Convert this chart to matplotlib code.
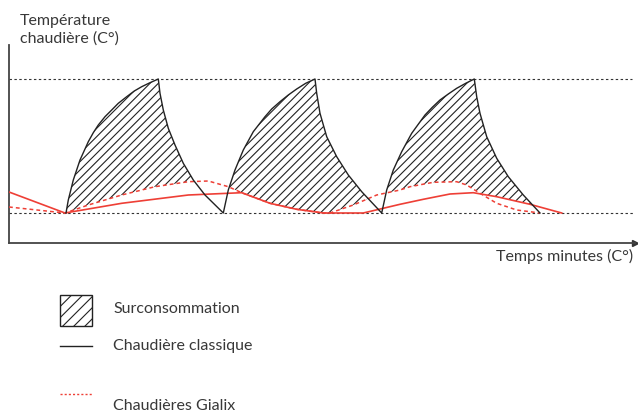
import numpy as np
import matplotlib
matplotlib.use("Agg")
import matplotlib.pyplot as plt
from matplotlib.lines import Line2D
from matplotlib.patches import Rectangle

# ---------------- data (x = minutes, y = temperature) ----------------
T_LOW = 15
T_HIGH = 82

# classic boiler cycles: rise (heating) then fall (cooling)
c1_rise_x = [11.4, 11.86, 12.86, 14.2, 15.86, 16.86, 17.86, 19.2, 20.54, 21.86, 23.54, 25.06, 26.54, 28.2, 29.86]
c1_rise_y = [15, 21.5, 31.5, 41.5, 50.65, 55.15, 59, 63.15, 66.5, 69.85, 73.15, 76, 78.15, 80.15, 82]
c1_fall_x = [30.2, 30.86, 31.86, 33.2, 34.86, 36.86, 39.2, 42.86]
c1_fall_y = [74.85, 66.5, 57.35, 49, 39.85, 31.5, 24, 15]

c2_rise_x = [43.86, 45.2, 46.86, 48.86, 51.2, 52.54, 54.2, 55.86, 57.54, 59.34, 61.2]
c2_rise_y = [26.5, 36.5, 46.5, 55.65, 63.15, 67, 70.65, 74, 77, 79.85, 82]
c2_fall_x = [61.54, 62.2, 63.54, 65.54, 67.86, 70.54, 74.54]
c2_fall_y = [74.85, 64.85, 53.15, 43.15, 34, 25.65, 15]

c3_rise_x = [75.54, 76.86, 78.54, 80.54, 83.2, 84.66, 86.2, 87.86, 89.54, 91.34, 93.06]
c3_rise_y = [26.5, 36.5, 45.65, 54.85, 64, 67.85, 71.5, 74.5, 77.35, 79.85, 82]
c3_fall_x = [93.54, 94.2, 95.54, 97.54, 99.86, 102.86, 106.2]
c3_fall_y = [73.15, 64.85, 53.15, 42.35, 33.15, 24, 15]

# Gialix boiler (solid red)
gs_x = [0, 11.2, 22.54, 35.86, 46.54, 52.2, 57.54, 62.86, 70.86, 78.2, 82.86, 88.2, 92.86, 97.54, 104.2, 110.54]
gs_y = [25.5, 15, 19.85, 24, 25.15, 19.85, 16.85, 15, 15, 19.35, 21.85, 24.5, 25.15, 23.15, 19.35, 15]

# Gialix boiler (dashed red)
gd_x = [0, 11.2, 15.86, 22.54, 29.2, 35.86, 39.86, 43.86, 46.54, 52.2, 57.54, 62.86, 64.2, 68.86,
        73.54, 78.2, 80.2, 84.86, 89.54, 91.54, 94.2, 97.54, 101.54, 106.2]
gd_y = [18, 15, 19, 24, 28.15, 30.65, 31, 28.15, 25.15, 19.85, 16.85, 15, 15, 19,
        24, 26.5, 28.15, 30.35, 30.65, 29, 24.85, 19.85, 16.5, 15]

y_label = "Température\nchaudière (C°)"
x_label = "Temps minutes (C°)"
legend_labels = ["Surconsommation", "Chaudière classique", "Chaudières Gialix"]

# ---------------- style ----------------
W, H = 638, 412
DPI = 100
RED = "#ee3f36"
TXT = "#383838"
FS = 11.5
plt.rcParams["font.family"] = ["Lato", "DejaVu Sans"]
plt.rcParams["hatch.linewidth"] = 0.8

fig = plt.figure(figsize=(W / DPI, H / DPI), dpi=DPI)

def fx(px):
    return px / W

def fy(py):
    return 1 - py / H

ax = fig.add_axes([fx(9), fy(243), fx(635) - fx(9), fy(45) - fy(243)])
ax.set_xlim(0, 125.2)
ax.set_ylim(0, 99)
ax.set_xticks([])
ax.set_yticks([])
for s in ["top", "right"]:
    ax.spines[s].set_visible(False)
for s in ["left", "bottom"]:
    ax.spines[s].set_color("#444444")
    ax.spines[s].set_linewidth(1.3)
ax.patch.set_alpha(0)
ax.plot(1, 0, marker=">", color="#333333", markersize=5, transform=ax.transAxes, clip_on=False)

# reference levels
ax.axhline(T_HIGH, xmax=(632 - 9) / (635 - 9), color="#333333", lw=0.8, dashes=(2.2, 2.2))
ax.axhline(T_LOW, color="#333333", lw=0.8, dashes=(2.2, 2.2))

# classic boiler curve
bx = np.array(c1_rise_x + c1_fall_x + c2_rise_x + c2_fall_x + c3_rise_x + c3_fall_x)
by = np.array(c1_rise_y + c1_fall_y + c2_rise_y + c2_fall_y + c3_rise_y + c3_fall_y)

# hatched over-consumption area: between classic curve and upper Gialix curve
grid = np.linspace(bx[0], bx[-1], 6000)
b_i = np.interp(grid, bx, by)
r_i = np.maximum(np.interp(grid, gs_x, gs_y), np.interp(grid, gd_x, gd_y))
ax.fill_between(grid, r_i, b_i, where=b_i > r_i, interpolate=True,
                facecolor="none", edgecolor="#222222", hatch="////", linewidth=0)

ax.plot(gd_x, gd_y, color=RED, lw=1.1, dashes=(2.5, 2), zorder=3)
ax.plot(gs_x, gs_y, color=RED, lw=1.2, zorder=4)
ax.plot(bx, by, color="#222222", lw=1.0, zorder=5, solid_joinstyle="round")

# axis labels
lines = y_label.split("\n")
fig.text(fx(20), fy(25), lines[0], fontsize=FS, color=TXT, va="baseline")
fig.text(fx(20), fy(43), lines[1], fontsize=FS, color=TXT, va="baseline")
fig.text(fx(633), fy(261), x_label, fontsize=FS, color=TXT, va="baseline", ha="right")

# legend
rect = Rectangle((fx(60), fy(326)), fx(92) - fx(60), fy(295) - fy(326), transform=fig.transFigure,
                 facecolor="white", edgecolor="#222222", hatch="///", linewidth=1.0)
fig.add_artist(rect)
fig.add_artist(Line2D([fx(60), fx(92)], [fy(345.5), fy(345.5)], transform=fig.transFigure,
                      color="#222222", lw=1.0))
fig.add_artist(Line2D([fx(60), fx(92)], [fy(394), fy(394)], transform=fig.transFigure,
                      color=RED, lw=1.0, dashes=(1.5, 1.5)))
fig.text(fx(113), fy(313), legend_labels[0], fontsize=FS, color=TXT, va="baseline")
fig.text(fx(113), fy(350), legend_labels[1], fontsize=FS, color=TXT, va="baseline")
fig.text(fx(113), fy(410.5), legend_labels[2], fontsize=FS, color=TXT, va="baseline")

fig.savefig("out.png", dpi=DPI)
